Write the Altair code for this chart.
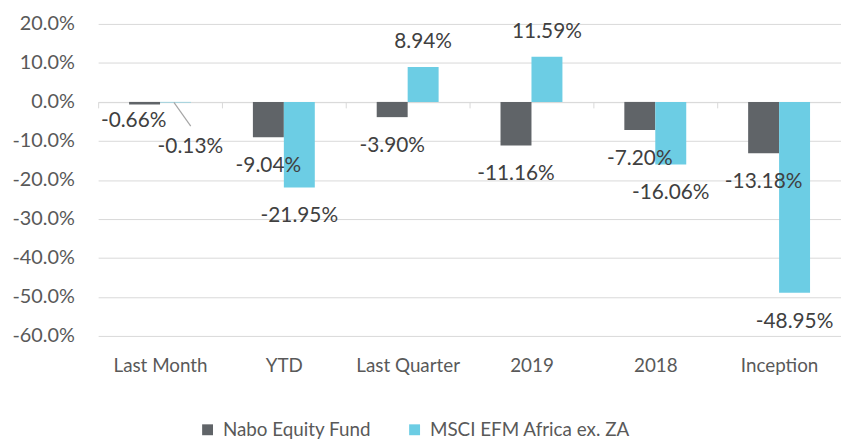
import altair as alt
import pandas as pd

categories = ["Last Month", "YTD", "Last Quarter", "2019", "2018", "Inception"]
series_names = ["Nabo Equity Fund", "MSCI EFM Africa ex. ZA"]
nabo = [-0.66, -9.04, -3.90, -11.16, -7.20, -13.18]
msci = [-0.13, -21.95, 8.94, 11.59, -16.06, -48.95]
y_ticks = [0.2, 0.1, 0.0, -0.1, -0.2, -0.3, -0.4, -0.5, -0.6]
colors = ["#606468", "#6CCDE4"]

rows = []
for c, a, b in zip(categories, nabo, msci):
    rows.append({"cat": c, "series": series_names[0], "v": a / 100, "lab": f"{a:.2f}%"})
    rows.append({"cat": c, "series": series_names[1], "v": b / 100, "lab": f"{b:.2f}%"})
df = pd.DataFrame(rows)

FONT = "Lato"
GRID = "#D9D9D9"
H = 315
W = 750

x_enc = alt.X(
    "cat:N",
    sort=categories,
    scale=alt.Scale(paddingInner=0, paddingOuter=0),
    axis=alt.Axis(
        title=None,
        orient="bottom",
        offset=-(H * 60 / 80),
        domainColor=GRID,
        domainWidth=1,
        tickColor=GRID,
        tickWidth=1,
        tickSize=6,
        tickBand="extent",
        labelPadding=251,
        labelFont=FONT,
        labelFontSize=19,
        labelColor="#595959",
        labelAngle=0,
        grid=False,
    ),
)
y_scale = alt.Scale(domain=[-0.6, 0.2], nice=False, zero=False)
y_enc = alt.Y(
    "v:Q",
    scale=y_scale,
    axis=alt.Axis(
        title=None,
        values=y_ticks,
        tickCount=20,
        labelExpr="replace(format(datum.value, '.1%'), '\u2212', '-')",
        labelOverlap=False,
        domain=False,
        ticks=False,
        labelPadding=24,
        labelFont=FONT,
        labelFontSize=20,
        labelColor="#595959",
        gridColor=GRID,
        gridWidth=1,
    ),
)
xoff = alt.XOffset(
    "series:N",
    sort=series_names,
    scale=alt.Scale(paddingOuter=1, paddingInner=0),
)

base = alt.Chart(df)

bars = base.mark_bar().encode(
    x=x_enc,
    xOffset=xoff,
    y=y_enc,
    y2=alt.datum(0),
    color=alt.Color(
        "series:N",
        sort=series_names,
        scale=alt.Scale(domain=series_names, range=colors),
        legend=alt.Legend(
            title=None,
            orient="none",
            legendX=101,
            legendY=400,
            direction="horizontal",
            symbolType="square",
            symbolSize=121,
            symbolStrokeWidth=0,
            labelFont=FONT,
            labelFontSize=19,
            labelColor="#595959",
            labelOffset=6,
            labelLimit=400,
            columnPadding=34,
        ),
    ),
)

text_common = dict(font=FONT, fontSize=21, color="#404040", baseline="middle", align="center")

neg_text = base.transform_filter(
    (alt.datum.v < 0) & (alt.datum.cat != "Last Month")
).mark_text(dy=29, **text_common).encode(
    x=x_enc, xOffset=xoff, y=y_enc, text="lab:N"
)
pos_text = base.transform_filter(alt.datum.v >= 0).mark_text(dy=-25, **text_common).encode(
    x=x_enc, xOffset=xoff, y=y_enc, text="lab:N"
)
lm_nabo = base.transform_filter(
    (alt.datum.cat == "Last Month") & (alt.datum.series == series_names[0])
).mark_text(dx=-11, dy=17, **text_common).encode(
    x=x_enc, xOffset=xoff, y=y_enc, text="lab:N"
)
lm_msci = base.transform_filter(
    (alt.datum.cat == "Last Month") & (alt.datum.series == series_names[1])
).mark_text(dx=15, dy=45, **text_common).encode(
    x=x_enc, xOffset=xoff, y=y_enc, text="lab:N"
)
leader = base.transform_filter(
    (alt.datum.cat == "Last Month") & (alt.datum.series == series_names[1])
).mark_rule(color="#A6A6A6", strokeWidth=1.2, xOffset=14, x2Offset=31, y2Offset=24).encode(
    x=x_enc,
    x2=alt.X2("cat:N"),
    y=y_enc,
    y2=alt.Y2("v:Q"),
)

chart = (
    alt.layer(bars, neg_text, pos_text, lm_nabo, lm_msci, leader)
    .properties(
        width=W,
        height=H,
        autosize=alt.AutoSizeParams(type="none"),
        padding={"left": 91, "top": 14, "right": 0, "bottom": 104},
    )
    .configure_view(stroke=None)
)

chart.save("out.html", embed_options={"renderer": "svg", "actions": False})
